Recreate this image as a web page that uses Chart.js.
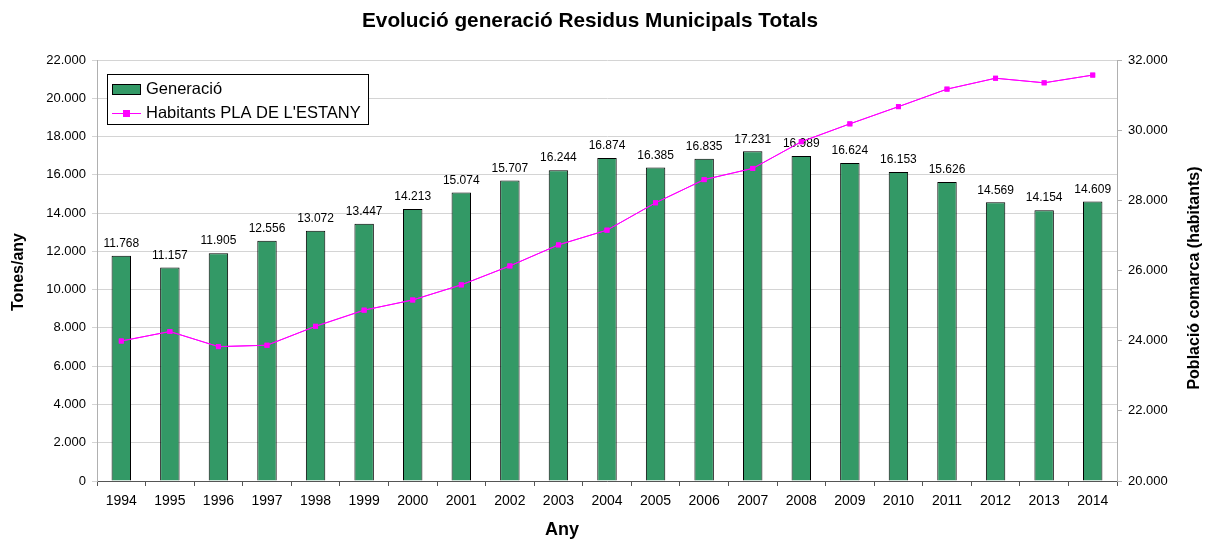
<!DOCTYPE html>
<html>
<head>
<meta charset="utf-8">
<script src="https://cdn.jsdelivr.net/npm/chart.js"></script>
<style>
  html, body { margin: 0; padding: 0; background: #fff; }
  #wrap { width: 1209px; height: 542px; }
</style>
</head>
<body>
<div id="wrap"><canvas id="chart" width="1209" height="542"></canvas></div>
<script>
// Data
const years = ['1994', '1995', '1996', '1997', '1998', '1999', '2000', '2001', '2002', '2003', '2004',
  '2005', '2006', '2007', '2008', '2009', '2010', '2011', '2012', '2013', '2014'];
const generacio = [11768, 11157, 11905, 12556, 13072, 13447, 14213, 15074, 15707, 16244, 16874,
  16385, 16835, 17231, 16989, 16624, 16153, 15626, 14569, 14154, 14609];
const habitants = [23990, 24260, 23830, 23870, 24410, 24870, 25160, 25590, 26130, 26730, 27150,
  27930, 28590, 28910, 29670, 30180, 30670, 31170, 31480, 31350, 31570];

const FONT = '"Liberation Sans", Arial, sans-serif';

// thousands separator as a dot, like the original
function fmt(n) {
  return String(Math.round(n)).replace(/\B(?=(\d{3})+(?!\d))/g, '.');
}

// value labels above the bars, titles and the boxed legend
const decorations = {
  id: 'decorations',
  afterDatasetsDraw(chart) {
    const ctx = chart.ctx;
    const meta = chart.getDatasetMeta(1);
    ctx.save();
    ctx.fillStyle = '#000';
    ctx.font = '12px ' + FONT;
    ctx.textAlign = 'center';
    ctx.textBaseline = 'bottom';
    meta.data.forEach((bar, i) => {
      ctx.fillText(fmt(generacio[i]), bar.x, bar.y - 6);
    });
    ctx.restore();
    // redraw the line on top of the labels
    chart.getDatasetMeta(0).controller.draw();
  },
  afterDraw(chart) {
    const ctx = chart.ctx;
    const area = chart.chartArea;
    ctx.save();
    ctx.fillStyle = '#000';
    ctx.textAlign = 'center';
    ctx.textBaseline = 'middle';

    ctx.font = 'bold 20.8px ' + FONT;
    ctx.fillText('Evolució generació Residus Municipals Totals', 590, 21);

    ctx.font = 'bold 18px ' + FONT;
    ctx.fillText('Any', 562, 530);

    ctx.font = 'bold 16px ' + FONT;
    ctx.save();
    ctx.translate(19, 272);
    ctx.rotate(-Math.PI / 2);
    ctx.fillText('Tones/any', 0, 0);
    ctx.restore();

    ctx.save();
    ctx.translate(1195, 278);
    ctx.rotate(-Math.PI / 2);
    ctx.fillText('Població comarca (habitants)', 0, 0);
    ctx.restore();

    // legend box
    const lx = area.left + 10, ly = area.top + 14, lw = 261, lh = 50;
    ctx.fillStyle = '#fff';
    ctx.fillRect(lx, ly, lw, lh);
    ctx.strokeStyle = '#000';
    ctx.lineWidth = 1;
    ctx.strokeRect(lx + 0.5, ly + 0.5, lw, lh);

    ctx.fillStyle = '#339966';
    ctx.fillRect(lx + 5, ly + 10, 28, 10);
    ctx.strokeRect(lx + 5.5, ly + 10.5, 28, 10);

    ctx.strokeStyle = '#ff00ff';
    ctx.beginPath();
    ctx.moveTo(lx + 5, ly + 39.5);
    ctx.lineTo(lx + 34, ly + 39.5);
    ctx.stroke();
    ctx.fillStyle = '#ff00ff';
    ctx.fillRect(lx + 16, ly + 36, 7, 7);

    ctx.fillStyle = '#000';
    ctx.font = '16.5px ' + FONT;
    ctx.textAlign = 'left';
    ctx.fillText('Generació', lx + 39, ly + 15);
    ctx.fillText("Habitants PLA DE L'ESTANY", lx + 39, ly + 39);
    ctx.restore();
  }
};

new Chart(document.getElementById('chart'), {
  data: {
    labels: years,
    datasets: [
      {
        type: 'line',
        label: "Habitants PLA DE L'ESTANY",
        data: habitants,
        yAxisID: 'y1',
        borderColor: '#ff00ff',
        backgroundColor: '#ff00ff',
        borderWidth: 1,
        pointStyle: 'rect',
        pointRadius: 3.5,
        pointBorderWidth: 0,
        tension: 0,
        order: 0
      },
      {
        type: 'bar',
        label: 'Generació',
        data: generacio,
        yAxisID: 'y',
        backgroundColor: '#339966',
        borderColor: '#000',
        borderWidth: 1,
        categoryPercentage: 0.8,
        barPercentage: 0.5,
        order: 1
      }
    ]
  },
  options: {
    responsive: false,
    animation: false,
    layout: { padding: { top: 60 } },
    plugins: {
      legend: { display: false },
      title: { display: false },
      tooltip: { enabled: false }
    },
    scales: {
      x: {
        grid: { display: true, drawOnChartArea: false, offset: true, tickLength: 5, color: '#555' },
        border: { color: '#555' },
        ticks: { color: '#000', font: { family: FONT, size: 14 }, padding: 7, maxRotation: 0 },
        afterFit(scale) { scale.height = 61; }
      },
      y: {
        position: 'left',
        min: 0,
        max: 22000,
        grid: { color: '#d4d4d4', tickLength: 5 },
        border: { color: '#b0b0b0' },
        ticks: { stepSize: 2000, color: '#000', font: { family: FONT, size: 13 }, padding: 6,
          callback: v => fmt(v) },
        afterFit(scale) { scale.width = 97; }
      },
      y1: {
        position: 'right',
        min: 20000,
        max: 32000,
        grid: { drawOnChartArea: false, tickLength: 5, color: '#b0b0b0' },
        border: { color: '#b0b0b0' },
        ticks: { stepSize: 2000, color: '#000', font: { family: FONT, size: 13 }, padding: 6,
          callback: v => fmt(v) },
        afterFit(scale) { scale.width = 92; }
      }
    }
  },
  plugins: [decorations]
});
</script>
</body>
</html>
